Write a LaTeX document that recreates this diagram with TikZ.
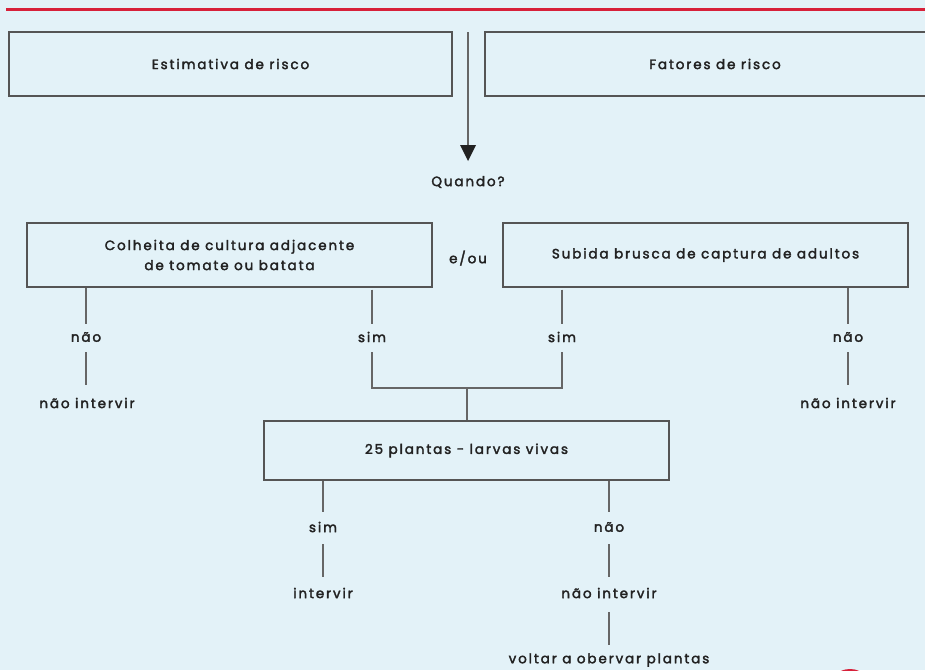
\documentclass[tikz,border=0pt]{standalone}
\usepackage{fontspec}
\setmainfont{Poppins}[LetterSpace=14,FakeBold=2.4]
\definecolor{bgc}{HTML}{E3F2F8}
\definecolor{redc}{HTML}{D7213A}
\definecolor{linec}{HTML}{666666}
\definecolor{boxc}{HTML}{555555}
\definecolor{txtc}{HTML}{222222}
\usetikzlibrary{arrows.meta}
\begin{document}
\begin{tikzpicture}[x=1pt,y=-1pt,
  box/.style={draw=boxc,line width=1.1pt,fill=bgc,inner sep=0pt,text=txtc,font=\fontsize{13.5}{20}\selectfont,align=center},
  lbl/.style={text=txtc,font=\fontsize{13.5}{15}\selectfont,inner sep=1pt},
  conn/.style={draw=linec,line width=1.1pt}]
\begin{scope}
\clip (0,0) rectangle (925,670);
\fill[bgc] (0,0) rectangle (925,670);
\fill[redc] (850,692) circle (23);
\end{scope}
\useasboundingbox (0,0) rectangle (925,670);
\draw[redc,line width=3pt] (6,9) -- (925,9);
% top boxes
\node[box,minimum width=443pt,minimum height=64pt] (est) at (230.5,64) {Estimativa de risco};
\node[box,minimum width=460pt,minimum height=64pt] (fat) at (715,64) {Fatores de risco};
\coordinate (top) at (468,32);
\coordinate (tip) at (468,161);
\node[lbl] (quando) at (468,182) {Quando?};
\draw[conn] (top) -- (468,148);
\fill[txtc] (tip) -- (460,145) -- (476,145) -- cycle;
% second level
\node[box,minimum width=405pt,minimum height=64pt] (col) at (229.5,255) {Colheita de cultura adjacente\\de tomate ou batata};
\node[lbl] (eou) at (468,258) {e/ou};
\node[box,minimum width=405pt,minimum height=64pt] (sub) at (705.5,255) {Subida brusca de captura de adultos};
% left no
\node[lbl] (n1) at (86,337) {não};
\node[lbl] (ni1) at (87,403) {não intervir};
\draw[conn] (col.south -| n1) -- ++(0,36);
\draw[conn] (n1) ++(0,15) -- ++(0,33);
% sims
\node[lbl] (s1) at (372,337) {sim};
\node[lbl] (s2) at (562,337) {sim};
\draw[conn] (col.south -| s1) ++(0,2) -- ++(0,34);
\draw[conn] (sub.south -| s2) ++(0,2) -- ++(0,34);
\coordinate (j1) at (372,388);
\coordinate (j2) at (562,388);
\coordinate (jm) at (467,388);
\draw[conn] (372,352) -- (j1) -- (j2) -- (562,352);
% right no
\node[lbl] (n2) at (848,337) {não};
\node[lbl] (ni2) at (848,403) {não intervir};
\draw[conn] (sub.south -| n2) -- ++(0,36);
\draw[conn] (848,352) -- (848,385);
% third level
\node[box,minimum width=405pt,minimum height=59pt] (pl) at (466.5,450.5) {25 plantas - larvas vivas};
\draw[conn] (jm) -- (pl.north -| jm);
\node[lbl] (s3) at (323,527) {sim};
\node[lbl] (iv) at (323,593) {intervir};
\node[lbl] (n3) at (609,527) {não};
\node[lbl] (ni3) at (609,593) {não intervir};
\node[lbl] (vo) at (609,660) {voltar a obervar plantas};
\draw[conn] (pl.south -| s3) -- (323,512);
\draw[conn] (323,544) -- (323,577);
\draw[conn] (pl.south -| n3) -- (609,512);
\draw[conn] (609,544) -- (609,577);
\draw[conn] (609,612) -- (609,645);
\end{tikzpicture}
\end{document}
